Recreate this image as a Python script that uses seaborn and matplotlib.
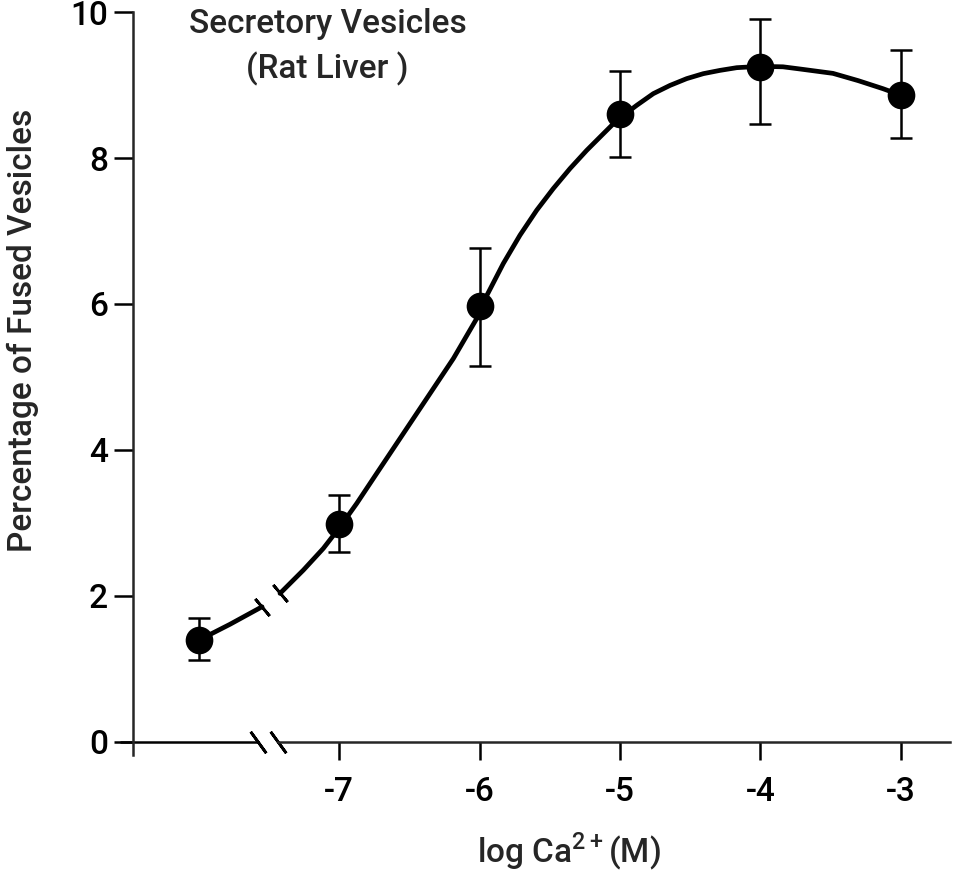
import matplotlib
matplotlib.use("Agg")
import matplotlib.pyplot as plt
import seaborn as sns
import pandas as pd

# === DATA ===
log_ca = [-8, -7, -6, -5, -4, -3]
fused = [1.39, 2.98, 5.97, 8.60, 9.25, 8.86]
err_low = [1.12, 2.60, 5.15, 8.02, 8.46, 8.27]
err_high = [1.70, 3.38, 6.76, 9.19, 9.90, 9.48]

# fitted curve (left piece before the break, then the rest)
curve_x_low = [-8.0, -7.776, -7.548]
curve_y_low = [1.39, 1.61, 1.85]
curve_x = [-7.420, -7.254, -7.112, -6.993, -6.874, -6.732, -6.542, -6.352, -6.186,
           -6.020, -5.984, -5.831, -5.712, -5.593, -5.475, -5.356, -5.237, -5.118,
           -5.023, -4.881, -4.763, -4.644, -4.525, -4.407, -4.288, -4.169, -4.004,
           -3.840, -3.719, -3.484, -3.304, -3.128, -3.0]
curve_y = [2.033, 2.352, 2.649, 2.945, 3.266, 3.677, 4.225, 4.773, 5.252,
           5.800, 5.982, 6.553, 6.942, 7.284, 7.581, 7.855, 8.105, 8.334,
           8.516, 8.722, 8.882, 8.995, 9.088, 9.156, 9.201, 9.238, 9.256,
           9.25, 9.22, 9.16, 9.06, 8.95, 8.86]

xtick_vals = [-7, -6, -5, -4, -3]
xtick_labels = ["-7", "-6", "-5", "-4", "-3"]
ytick_vals = [0, 2, 4, 6, 8, 10]

sns.set_style("ticks")
plt.rcParams["font.family"] = ["Roboto", "DejaVu Sans"]
plt.rcParams["font.weight"] = "medium"
plt.rcParams["axes.labelweight"] = "medium"
plt.rcParams["mathtext.fontset"] = "custom"
plt.rcParams["mathtext.rm"] = "Roboto:medium"

df = pd.DataFrame({"x": log_ca, "y": fused})
df_low = pd.DataFrame({"x": curve_x_low, "y": curve_y_low})
df_curve = pd.DataFrame({"x": curve_x, "y": curve_y})

fig = plt.figure(figsize=(9.54, 8.75), dpi=100)
ax = fig.add_axes([0.1258, 0.1371, 0.870, 0.8491])

# curve pieces
sns.lineplot(data=df_low, x="x", y="y", sort=False, color="black", linewidth=3.4, ax=ax)
sns.lineplot(data=df_curve, x="x", y="y", sort=False, color="black", linewidth=3.4, ax=ax)

# break ticks on the curve
ax.plot([curve_x_low[-1]], [curve_y_low[-1]], marker=(2, 2, 40), markersize=16,
        markeredgewidth=2, color="black", linestyle="none")
ax.plot([curve_x[0]], [curve_y[0]], marker=(2, 2, 40), markersize=16,
        markeredgewidth=2, color="black", linestyle="none")

# error bars
yerr = [[f - lo for f, lo in zip(fused, err_low)], [hi - f for f, hi in zip(fused, err_high)]]
ax.errorbar(log_ca, fused, yerr=yerr, fmt="none", ecolor="black", elinewidth=1.8,
            capsize=8, capthick=1.8, zorder=3)

# data points
sns.scatterplot(data=df, x="x", y="y", s=340, color="black", edgecolor="black",
                zorder=4, ax=ax)

# === AXES ===
ax.set_xlim(-8.559, -2.651)
ax.set_ylim(-0.182, 10)
ax.spines["top"].set_visible(False)
ax.spines["right"].set_visible(False)
ax.spines["left"].set_position(("data", -8.466))
ax.spines["bottom"].set_position(("data", 0))
ax.spines["bottom"].set_bounds(-7.434, -2.651)
for sp in ["left", "bottom"]:
    ax.spines[sp].set_linewidth(1.8)
ax.hlines(0, -8.559, -7.577, color="black", linewidth=1.8, clip_on=False)

# broken axis marks
ax.plot([-7.577, -7.434], [0, 0], marker=(2, 2, 36), markersize=19,
        markeredgewidth=2, color="black", linestyle="none", clip_on=False)

ax.set_xticks(xtick_vals)
ax.set_xticklabels(xtick_labels)
ax.set_yticks(ytick_vals)
ax.tick_params(axis="both", direction="out", width=1.8, labelsize=24, colors="black")
ax.tick_params(axis="x", length=13, pad=12)
ax.tick_params(axis="y", length=14, pad=4)

ax.set_xlabel(r"log Ca$^{2+}$(M)", fontsize=24, fontweight="medium")
ax.xaxis.set_label_coords(0.541, -0.102)
ax.set_ylabel("Percentage of Fused Vesicles", fontsize=24, fontweight="medium")
ax.yaxis.set_label_coords(-0.098, 0.572)

ax.text(-8.07, 10.05, "Secretory Vesicles", fontsize=24, ha="left", va="top")
ax.text(-7.66, 9.45, "(Rat Liver )", fontsize=24, ha="left", va="top")

plt.savefig("out.png", dpi=100)
plt.close()
